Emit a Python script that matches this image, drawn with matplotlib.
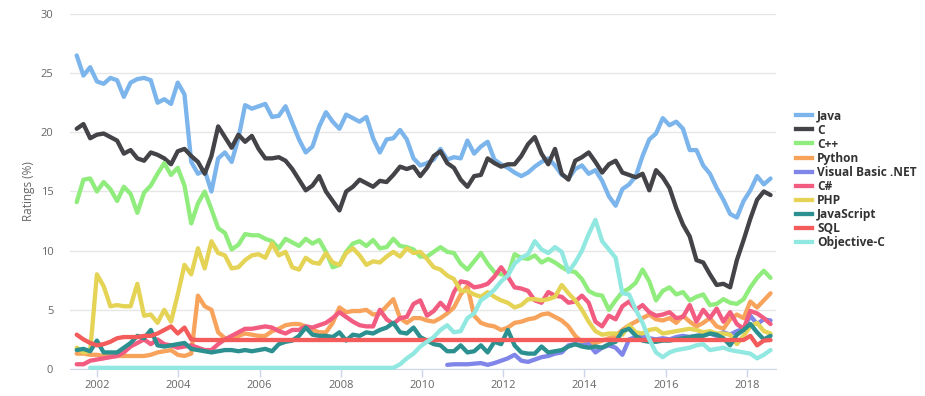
import numpy as np
import matplotlib.pyplot as plt
from matplotlib.lines import Line2D

plt.rcParams["font.family"] = ["Open Sans", "DejaVu Sans"]

# ratings (%) sampled every ~2 months, mid 2001 .. mid 2018
years = np.linspace(2001.5, 2018.58, 104)

java = [
    26.5, 24.8, 25.5,
    24.3, 24.1, 24.6, 24.4, 23.0, 24.2,
    24.5, 24.6, 24.4, 22.5, 22.8, 22.4,
    24.2, 23.2, 17.5, 16.5, 16.8, 15.0,
    17.8, 18.3, 17.5, 19.5, 22.3, 22.0,
    22.2, 22.4, 21.3, 21.4, 22.2, 20.8,
    19.4, 18.3, 18.8, 20.5, 21.7, 20.9,
    20.3, 21.5, 21.2, 20.9, 21.3, 19.5,
    18.3, 19.4, 19.5, 20.2, 19.4, 17.8,
    17.2, 17.4, 17.7, 18.6, 17.7, 17.9,
    17.8, 19.3, 18.2, 18.8, 19.2, 17.7,
    17.3, 17.0, 16.6, 16.3, 16.6, 17.1,
    17.5, 17.8, 17.2, 16.4, 16.1, 16.9,
    17.2, 16.5, 16.8, 15.9, 14.6, 13.8,
    15.2, 15.6, 16.3, 18.0, 19.4, 19.9,
    21.2, 20.6, 20.9, 20.3, 18.5, 18.5,
    17.2, 16.5, 15.3, 14.3, 13.1, 12.8,
    14.2, 15.1, 16.3, 15.6, 16.1,
]
c_lang = [
    20.3, 20.7, 19.5,
    19.8, 19.9, 19.6, 19.3, 18.2, 18.5,
    17.8, 17.6, 18.3, 18.1, 17.8, 17.3,
    18.4, 18.6, 18.0, 17.5, 16.5, 18.0,
    20.5, 19.6, 18.7, 19.8, 19.2, 19.7,
    18.6, 17.8, 17.8, 17.9, 17.6, 16.9,
    16.0, 15.1, 15.5, 16.3, 15.0, 14.2,
    13.4, 15.0, 15.4, 16.0, 15.7, 15.4,
    15.9, 15.8, 16.4, 17.1, 16.9, 17.1,
    16.3, 17.0, 18.0, 18.4, 17.4, 17.0,
    16.0, 15.4, 16.3, 16.4, 17.8, 17.4,
    17.1, 17.3, 17.3, 18.0, 19.0, 19.6,
    18.2, 17.3, 18.6, 16.5, 16.0, 17.6,
    17.9, 18.3, 17.5, 16.6, 17.3, 17.6,
    16.6, 16.4, 16.2, 16.5, 15.1, 16.8,
    16.2, 15.3, 13.6, 12.2, 11.2, 9.2,
    9.0, 8.0, 7.1, 7.2, 6.9, 9.2,
    10.9, 12.7, 14.3, 15.0, 14.7,
]
cpp = [
    14.1, 16.0, 16.1,
    15.0, 15.8, 15.2, 14.2, 15.4, 14.8,
    13.2, 14.9, 15.5, 16.5, 17.4, 16.4,
    17.0, 15.5, 12.3, 14.0, 15.0, 13.5,
    11.9, 11.5, 10.1, 10.5, 11.4, 11.3,
    11.3, 11.0, 10.8, 10.2, 11.0, 10.7,
    10.4, 11.0, 10.6, 10.9, 9.9, 8.6,
    8.8, 9.9, 10.6, 10.8, 10.4, 10.9,
    10.2, 10.3, 11.0, 10.4, 10.3, 10.1,
    9.5, 9.5, 9.9, 10.3, 9.9, 9.8,
    8.9, 8.4, 9.1, 9.8, 8.9, 8.2,
    8.0, 7.9, 9.7, 9.4, 9.3, 9.6,
    9.0, 9.3, 9.0, 8.6, 8.3, 8.2,
    7.6, 6.6, 6.3, 6.2, 5.0, 5.8,
    6.5, 6.8, 7.3, 8.4, 7.4, 5.8,
    6.6, 6.9, 6.3, 6.5, 5.8, 6.1,
    6.3, 5.4, 5.5, 5.9, 5.6, 5.5,
    5.9, 6.9, 7.7, 8.3, 7.7,
]
python = [
    1.3, 1.3, 1.2,
    1.2, 1.1, 1.1, 1.1, 1.1, 1.1,
    1.1, 1.1, 1.2, 1.4, 1.5, 1.6,
    1.2, 1.1, 1.3, 6.2, 5.3, 5.0,
    3.1, 2.6, 2.5, 2.8, 3.0, 2.9,
    2.8, 2.8, 3.2, 3.4, 3.7, 3.8,
    3.8, 3.6, 3.3, 3.1, 3.1, 3.9,
    5.2, 4.8, 4.9, 4.9, 5.0, 4.6,
    4.7, 5.3, 5.9, 4.3, 3.9, 4.3,
    4.3, 4.1, 4.0, 4.3, 4.7, 5.2,
    6.3, 7.0, 4.5, 3.9, 3.7, 3.6,
    3.3, 3.5, 3.9, 4.0, 4.2, 4.3,
    4.6, 4.7, 4.4, 4.1, 3.6, 2.8,
    2.3, 2.2, 2.2, 2.4, 2.6, 2.8,
    3.3, 3.7, 4.0, 4.3, 4.6, 4.2,
    4.1, 4.3, 3.9, 4.5, 4.0, 3.6,
    3.9, 4.3, 3.6, 3.4, 4.2, 4.6,
    4.3, 5.7, 5.2, 5.8, 6.4,
]
vbnet = [np.nan] * 55 + [
    0.35, 0.4,
    0.4, 0.4, 0.45, 0.5, 0.35, 0.5,
    0.7, 0.9, 1.2, 0.7, 0.6, 0.8,
    1.0, 1.1, 1.3, 1.4, 2.0, 2.1,
    2.0, 2.1, 1.4, 1.8, 2.0, 1.8,
    1.2, 2.5, 2.7, 2.8, 2.6, 2.5,
    2.6, 2.5, 2.7, 2.8, 2.7, 2.8,
    2.9, 3.0, 2.8, 3.1, 2.9, 3.2,
    3.4, 4.5, 3.8, 4.2, 4.1,
]
csharp = [
    0.4, 0.4, 0.7,
    0.8, 0.9, 1.0, 1.1, 1.4, 1.9,
    2.2, 2.5, 2.1, 2.5, 2.1, 2.0,
    1.8, 1.9, 2.0, 1.8, 1.6, 1.6,
    2.1, 2.5, 2.8, 3.1, 3.4, 3.4,
    3.5, 3.6, 3.5, 3.2, 3.0, 3.3,
    3.3, 3.6, 3.5, 3.7, 3.9, 4.3,
    4.8, 4.4, 4.0, 3.7, 3.6, 3.6,
    5.0, 4.2, 3.8, 4.3, 4.4, 5.5,
    5.8, 4.5, 4.9, 5.6, 5.0, 6.5,
    7.4, 7.3, 6.9, 7.0, 7.2, 7.8,
    8.6, 7.8, 6.9, 6.8, 6.6, 5.8,
    5.6, 6.5, 6.2, 6.1, 5.6, 5.7,
    6.2, 5.6, 4.0, 3.6, 4.5, 4.2,
    5.3, 5.7, 5.0, 5.4, 4.8, 4.5,
    4.6, 4.8, 4.3, 4.4, 5.4, 4.0,
    5.0, 4.3, 5.1, 4.0, 4.8, 3.8,
    3.4, 4.9, 4.7, 4.3, 3.8,
]
php = [
    1.8, 1.4, 1.5,
    8.0, 7.0, 5.3, 5.4, 5.3, 5.3,
    7.2, 4.5, 4.6, 3.9, 5.0, 4.0,
    6.3, 8.8, 8.0, 10.2, 8.5, 10.8,
    9.8, 9.6, 8.5, 8.6, 9.2, 9.6,
    9.7, 9.4, 10.6, 9.6, 9.9, 8.6,
    8.4, 9.4, 9.0, 8.9, 9.8, 9.0,
    8.8, 9.8, 10.2, 9.6, 8.8, 9.1,
    9.0, 9.5, 9.9, 9.5, 10.2, 9.8,
    9.9, 9.3, 8.6, 8.4, 7.9, 7.6,
    6.6, 6.6, 6.3, 6.1, 6.5, 6.1,
    5.8, 5.6, 5.2, 5.4, 5.9, 5.9,
    5.8, 5.9, 6.1, 7.1, 6.4, 5.8,
    5.0, 4.0, 3.2, 2.9, 3.0, 3.0,
    2.9, 3.7, 3.1, 3.0, 3.3, 3.4,
    3.0, 3.1, 3.2, 3.3, 3.4, 3.3,
    3.1, 3.2, 3.0, 3.0, 2.9, 2.1,
    2.8, 3.6, 3.9, 3.2, 3.0,
]
javascript = [
    1.6, 1.7, 1.5,
    2.4, 1.4, 1.4, 1.4, 1.8, 2.2,
    2.8, 2.6, 3.3, 2.0, 1.9, 2.0,
    2.1, 2.2, 1.7, 1.6, 1.5, 1.4,
    1.5, 1.6, 1.6, 1.5, 1.6, 1.5,
    1.6, 1.7, 1.5, 2.1, 2.3, 2.4,
    2.8, 3.5, 2.9, 2.8, 2.8, 2.7,
    3.1, 2.4, 2.9, 2.8, 3.1, 3.0,
    3.3, 3.5, 3.9, 3.1, 3.0, 3.5,
    2.7, 2.4, 2.1, 2.0, 1.5, 1.5,
    2.0, 1.4, 1.5, 2.0, 1.4, 2.3,
    2.1, 3.3, 2.0, 1.4, 1.3, 1.3,
    1.9, 1.4, 1.5, 1.6, 1.9, 2.1,
    1.9, 1.8, 1.9, 1.8, 2.1, 2.3,
    3.2, 3.4, 2.8, 2.4, 2.3, 2.3,
    2.4, 2.4, 2.5, 2.6, 2.7, 2.8,
    2.8, 3.0, 2.9, 2.6, 2.0, 2.9,
    3.3, 3.8, 3.1, 2.5, 2.8,
]
sql = [
    2.9, 2.5, 2.2,
    2.0, 2.1, 2.3, 2.6, 2.7, 2.7,
    2.7, 2.8, 2.8, 3.0, 3.3, 3.6,
    3.0, 3.5, 2.5, 2.45, 2.45, 2.45,
] + [2.45] * 78 + [2.45, 2.8, 2.0, 2.4, 2.45]
objc = [np.nan, np.nan, 0.1] + [0.1] * 42 + [
    0.1, 0.1, 0.1, 0.4, 0.9, 1.3,
    1.9, 2.3, 2.7, 3.3, 3.7, 3.1,
    3.2, 4.3, 4.7, 5.8, 6.2, 6.7,
    7.4, 7.9, 8.9, 9.4, 9.7, 10.8,
    10.1, 9.8, 10.3, 9.9, 8.2, 9.0,
    10.0, 11.4, 12.6, 10.8, 10.1, 9.4,
    6.4, 6.3, 5.0, 3.9, 2.5, 1.4,
    1.0, 1.4, 1.6, 1.7, 1.8, 2.0,
    2.1, 1.6, 1.7, 1.8, 1.6, 1.5,
    1.4, 1.3, 0.9, 1.2, 1.6,
]

names = ["Java", "C", "C++", "Python", "Visual Basic .NET", "C#",
         "PHP", "JavaScript", "SQL", "Objective-C"]
values = [java, c_lang, cpp, python, vbnet, csharp,
          php, javascript, sql, objc]
colors = ["#7cb5ec", "#434348", "#90ed7d", "#f7a35c", "#8085e9",
          "#f15c80", "#e4d354", "#2b908f", "#f45b5b", "#91e8e1"]

W, H = 925, 396
fig = plt.figure(figsize=(W / 100, H / 100), dpi=100)
ax = fig.add_axes([70 / W, 1 - 369 / H, 706 / W, 355 / H])

for i, (name, vals, col) in enumerate(zip(names, values, colors)):
    ax.plot(years, vals, color=col, lw=3.1, solid_joinstyle="round",
            solid_capstyle="round", zorder=3 + i, clip_on=False)

ax.set_xlim(2001.335, 2018.714)
ax.set_ylim(0, 30)
ax.set_yticks(range(0, 31, 5))
ax.set_xticks(range(2002, 2019, 2))
ax.grid(axis="y", color="#e6e6e6", lw=1)
ax.set_axisbelow(True)
for s in ["top", "right", "left"]:
    ax.spines[s].set_visible(False)
ax.spines["bottom"].set_color("#ccd6eb")
ax.spines["bottom"].set_zorder(1)
ax.tick_params(axis="y", length=0, pad=12, labelsize=8, labelcolor="#666666")
ax.tick_params(axis="x", length=6, width=1, color="#ccd6eb", pad=2,
               labelsize=8, labelcolor="#666666")
ax.set_ylabel("Ratings (%)", color="#666666", fontsize=8.5, labelpad=4)

# legend on the right, drawn by hand to keep the tight row pitch
for i, (name, col) in enumerate(zip(names, colors)):
    yc = 1 - (115.2 + 14.1 * i) / H
    fig.add_artist(Line2D([796 / W, 812 / W], [yc, yc], transform=fig.transFigure,
                          color=col, lw=3.1))
    fig.text(817 / W, yc - 4.2 / H, name, fontsize=8.6, fontweight="bold",
             color="#333333", va="baseline", ha="left")

fig.savefig("out.png", dpi=100)
